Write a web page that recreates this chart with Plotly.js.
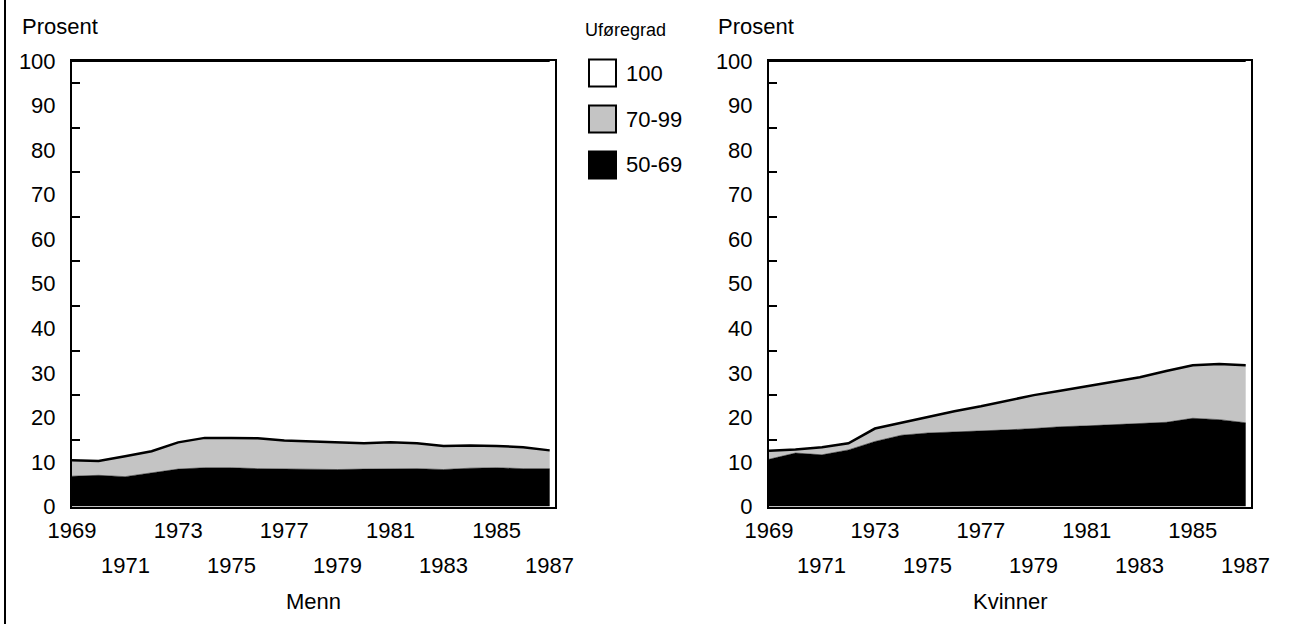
<!DOCTYPE html>
<html>
<head>
<meta charset="utf-8">
<script src="https://cdn.plot.ly/plotly-3.0.1.min.js"></script>
<style>
  html, body { margin: 0; padding: 0; background: #fff; }
  #wrap { position: relative; width: 1312px; height: 624px; }
  #edge { position: absolute; left: 4px; top: 0; width: 2px; height: 624px; background: #000; }
  #chart { position: absolute; left: 0; top: 0; width: 1312px; height: 624px; }
</style>
</head>
<body>
<div id="wrap"><div id="chart"></div><div id="edge"></div></div>
<script>
// ---- data ----
const years = [1969,1970,1971,1972,1973,1974,1975,1976,1977,1978,1979,1980,1981,1982,1983,1984,1985,1986,1987];
const seriesNames = ['100', '70-99', '50-69'];
const legendTitle = 'Uføregrad';
const yTitle = 'Prosent';
const panelTitles = ['Menn', 'Kvinner'];
const tickRow1 = [1969, 1973, 1977, 1981, 1985];
const tickRow2 = [1971, 1975, 1979, 1983, 1987];
const yTickVals = [0,10,20,30,40,50,60,70,80,90,100];

const menn5069 = [6.8,7.0,6.7,7.6,8.4,8.7,8.7,8.5,8.4,8.3,8.3,8.4,8.4,8.5,8.3,8.6,8.7,8.5,8.5];
const menn7099 = [3.6,3.2,4.6,4.8,6.0,6.7,6.7,6.8,6.4,6.3,6.1,5.8,6.0,5.7,5.3,5.1,4.9,4.8,4.1];
const menn100  = [89.6,89.8,88.7,87.6,85.6,84.6,84.6,84.7,85.2,85.4,85.6,85.8,85.6,85.8,86.4,86.3,86.4,86.7,87.4];

const kvinner5069 = [10.6,12.0,11.6,12.7,14.6,16.0,16.5,16.7,17.0,17.2,17.5,17.9,18.1,18.4,18.6,18.9,19.8,19.5,18.8];
const kvinner7099 = [1.9,0.8,1.7,1.5,2.9,2.8,3.6,4.7,5.5,6.5,7.5,8.1,8.9,9.7,10.4,11.5,11.9,12.5,12.9];
const kvinner100  = [87.5,87.2,86.7,85.8,82.5,81.2,79.9,78.6,77.5,76.3,75.0,74.0,73.0,71.9,71.0,69.6,68.3,68.0,68.3];

// ---- style ----
const FONT = '"Liberation Sans", Arial, sans-serif';
const FS = 22;
const W = 1312, H = 624;
const GRAY = '#c4c4c4';

function panelTraces(xa, ya, grp, s5069, s7099, s100) {
  return [
    {x: years, y: s5069, xaxis: xa, yaxis: ya, stackgroup: grp, mode: 'lines',
     line: {color: '#000', width: 0.5}, fillcolor: '#000', name: seriesNames[2], showlegend: false},
    {x: years, y: s7099, xaxis: xa, yaxis: ya, stackgroup: grp, mode: 'lines',
     line: {color: '#000', width: 2.5}, fillcolor: GRAY, name: seriesNames[1], showlegend: false},
    {x: years, y: s100, xaxis: xa, yaxis: ya, stackgroup: grp, mode: 'lines',
     line: {color: '#000', width: 2}, fillcolor: '#fff', name: seriesNames[0], showlegend: false}
  ];
}

const traces = [].concat(
  panelTraces('x', 'y', 'm', menn5069, menn7099, menn100),
  panelTraces('x2', 'y2', 'k', kvinner5069, kvinner7099, kvinner100)
);

const xRange = [1969, 1987.2];
const yDom = [(H - 506.5) / H, (H - 61) / H];
const dom1 = [72 / W, 555 / W];
const dom2 = [769 / W, 1251 / W];

function xMain(dom, yref) {
  return {domain: dom, anchor: yref, range: xRange, tickmode: 'array', tickvals: tickRow1,
    ticktext: tickRow1.map(String), ticks: '', showgrid: false, zeroline: false,
    showline: true, linecolor: '#000', linewidth: 2, mirror: true,
    ticklabelstandoff: 3, tickfont: {family: FONT, size: FS, color: '#000'}, fixedrange: true};
}
function yAx(dom, xref) {
  return {domain: yDom, anchor: xref, range: [0, 100], tickmode: 'array', tickvals: yTickVals,
    ticks: '', showgrid: false, zeroline: false, showline: true, linecolor: '#000', linewidth: 2, mirror: true,
    minor: {ticks: 'inside', tick0: 5, dtick: 10, ticklen: 8, tickwidth: 2, tickcolor: '#000', showgrid: false},
    ticklabelstandoff: 10, tickfont: {family: FONT, size: FS, color: '#000'}, fixedrange: true};
}

const txt = (extra) => Object.assign({showarrow: false, font: {family: FONT, size: FS, color: '#000'}}, extra);
const annotations = [
  txt({text: yTitle, xref: 'paper', yref: 'paper', x: 20 / W, y: 1 - 27 / H, xanchor: 'left', yanchor: 'middle'}),
  txt({text: yTitle, xref: 'paper', yref: 'paper', x: 716 / W, y: 1 - 27 / H, xanchor: 'left', yanchor: 'middle'}),
  txt({text: panelTitles[0], xref: 'x domain', yref: 'paper', x: 0.5, y: 1 - 601 / H, xanchor: 'center', yanchor: 'middle'}),
  txt({text: panelTitles[1], xref: 'x2 domain', yref: 'paper', x: 0.5, y: 1 - 601 / H, xanchor: 'center', yanchor: 'middle'}),
  {text: legendTitle, xref: 'paper', yref: 'paper', x: 583 / W, y: 1 - 30 / H, xanchor: 'left', yanchor: 'middle',
   showarrow: false, font: {family: FONT, size: 18, color: '#000'}}
];
// second (staggered) row of year labels, placed on the x scales
['x', 'x2'].forEach(xr => {
  tickRow2.forEach(v => {
    annotations.push(txt({text: String(v), xref: xr, yref: 'paper', x: v, y: 1 - 565 / H, xanchor: 'center', yanchor: 'middle'}));
  });
});
const shapes = [];
const legendFills = ['#fff', GRAY, '#000'];
seriesNames.forEach((nm, i) => {
  const cy = 73 + 46 * i;
  annotations.push(txt({text: nm, xref: 'paper', yref: 'paper', x: 624 / W, y: 1 - cy / H, xanchor: 'left', yanchor: 'middle'}));
  shapes.push({type: 'rect', xref: 'paper', yref: 'paper', x0: 589 / W, x1: 616 / W, y0: 1 - (cy - 13.5) / H, y1: 1 - (cy + 13.5) / H,
    fillcolor: legendFills[i], line: {color: '#000', width: 2}});
});

const layout = {
  width: W, height: H, margin: {l: 0, r: 0, t: 0, b: 0},
  paper_bgcolor: '#fff', plot_bgcolor: '#fff', showlegend: false, hovermode: false,
  font: {family: FONT, color: '#000'},
  xaxis: xMain(dom1, 'y'), yaxis: yAx(dom1, 'x'),
  xaxis2: xMain(dom2, 'y2'), yaxis2: yAx(dom2, 'x2'),
  annotations: annotations, shapes: shapes
};

Plotly.newPlot('chart', traces, layout, {staticPlot: true, displayModeBar: false});
</script>
</body>
</html>
